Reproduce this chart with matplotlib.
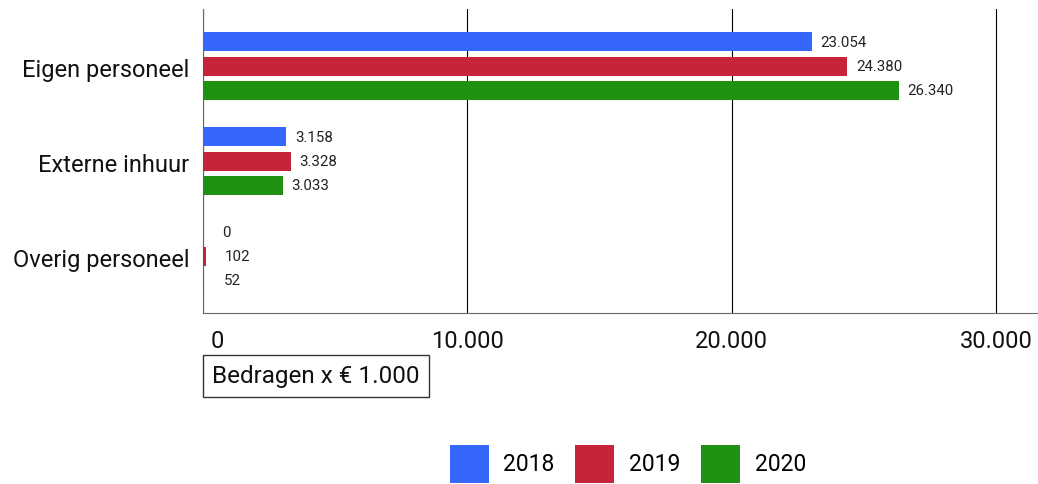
import matplotlib
matplotlib.use("Agg")
import matplotlib.pyplot as plt
import matplotlib.transforms as mtransforms
from matplotlib.patches import Patch
import numpy as np

plt.rcParams['font.family'] = ['Roboto', 'DejaVu Sans']

# data
categories = ['Eigen personeel', 'Externe inhuur', 'Overig personeel']
years = ['2018', '2019', '2020']
vals_2018 = [23054, 3158, 0]
vals_2019 = [24380, 3328, 102]
vals_2020 = [26340, 3033, 52]
labels_2018 = ['23.054', '3.158', '0']
labels_2019 = ['24.380', '3.328', '102']
labels_2020 = ['26.340', '3.033', '52']
xticks = [0, 10000, 20000, 30000]
xtick_labels = ['0', '10.000', '20.000', '30.000']

colors = ['#3667fb', '#c6243b', '#1f9010']

fig = plt.figure(figsize=(10.38, 4.84), dpi=100)
ax = fig.add_axes([203 / 1038, (484 - 313) / 484, 835 / 1038, 304 / 484])

y = np.arange(len(categories))
series = [(vals_2018, labels_2018), (vals_2019, labels_2019), (vals_2020, labels_2020)]
offsets = [-0.253, 0, 0.253]
for (vals, labs), off, col in zip(series, offsets, colors):
    ax.barh(y + off, vals, height=0.2, color=col, zorder=3)
    for yy, v, lab in zip(y + off, vals, labs):
        dx = 6 if v > 500 else 14
        ax.annotate(lab, (v, yy), xytext=(dx, -1), textcoords='offset points',
                    ha='left', va='center', fontsize=10.8, color='#222222')

ax.set_xlim(0, 31590)
ax.set_ylim(2.6, -0.6)
ax.set_yticks(y)
ax.set_yticklabels(categories, fontsize=17, color='#111111')
ax.set_xticks(xticks)
ax.set_xticklabels(xtick_labels, fontsize=17, color='#111111')
ax.tick_params(length=0)
ax.tick_params(axis='x', pad=12)
ax.tick_params(axis='y', pad=10)
lab0 = ax.get_xticklabels()[0]
lab0.set_transform(lab0.get_transform() + mtransforms.ScaledTranslation(14 / 100, 0, fig.dpi_scale_trans))
for t in ax.get_yticklabels():
    t.set_transform(t.get_transform() + mtransforms.ScaledTranslation(0, -2 / 100, fig.dpi_scale_trans))

ax.grid(axis='x', color='black', linewidth=0.8, zorder=0)
ax.set_axisbelow(True)
for s in ['top', 'right']:
    ax.spines[s].set_visible(False)
ax.spines['left'].set_color('#666666')
ax.spines['bottom'].set_color('#666666')

fig.text(212 / 1038, 1 - 376 / 484, 'Bedragen x € 1.000', fontsize=17.5, va='center', ha='left',
         color='#111111',
         bbox=dict(boxstyle='square,pad=0.38', facecolor='white', edgecolor='#333333', linewidth=1))

handles = [Patch(facecolor=c, edgecolor='none') for c in colors]
fig.legend(handles, years, loc='center', bbox_to_anchor=(628 / 1038, 1 - 464 / 484),
           ncol=3, frameon=False, fontsize=16.5, handlelength=1.7, handleheight=2.23,
           handletextpad=0.65, columnspacing=0.9)

fig.savefig('out.png', dpi=100)
